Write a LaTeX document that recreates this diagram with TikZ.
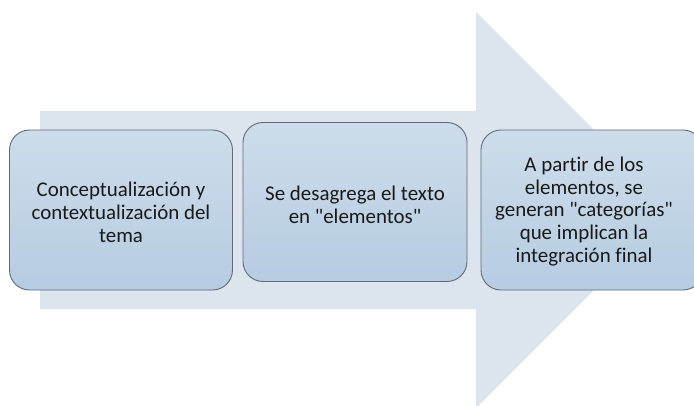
\documentclass[tikz,border=0pt]{standalone}
\usepackage{fontspec}
\setmainfont{Carlito}[Mapping=, Ligatures={NoCommon}]
\definecolor{arrowfill}{HTML}{DCE4EE}
\definecolor{boxtop}{HTML}{CDDCEA}
\definecolor{boxbot}{HTML}{B6CCE2}
\definecolor{boxline}{HTML}{5F6B78}
\tikzset{
  stagefont/.style={font=\fontsize{21}{23}\selectfont, text=black!90, align=center},
  stage/.style={draw=boxline, line width=0.9bp, rounded corners=20bp,
    top color=boxtop, bottom color=boxbot, stagefont, inner sep=0pt}
}
\begin{document}
\begin{tikzpicture}[x=1bp,y=-1bp]
\useasboundingbox (0,0) rectangle (694,405);
\clip (0,0) rectangle (694,405);
\fill[arrowfill] (40,111) -- (476,111) -- (476,12) -- (674,210) -- (476,408) -- (476,309) -- (40,309) -- cycle;
\node[stage, minimum width=223bp, minimum height=160bp] (b1) at (121,210) {};
\node[stagefont] (t1) at (121,212.5)
  {Conceptualización y\\contextualización del\\tema};
\node[stage, minimum width=224bp, minimum height=159bp] (b2) at (355,202) {};
\node[stagefont] (t2) at (355,204.5)
  {Se desagrega el texto\\en "elementos"};
\node[stage, minimum width=222bp, minimum height=160bp] (b3) at (592,210) {};
\node[stagefont] (t3) at (584,211.5)
  {A partir de los\\elementos, se\\generan "categorías"\\que implican la\\integración final};
\end{tikzpicture}
\end{document}
